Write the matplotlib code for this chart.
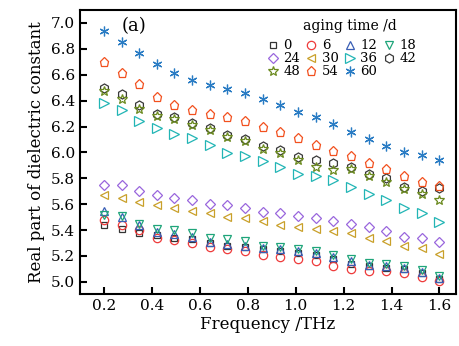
import numpy as np
import matplotlib
matplotlib.use("Agg")
import matplotlib.pyplot as plt

plt.rcParams['font.family'] = ['DejaVu Serif']
plt.rcParams['mathtext.fontset'] = 'dejavuserif'

# frequency points (THz)
freq = np.linspace(0.2, 1.6, 20)

# real part of dielectric constant for each aging time (days)
d0 = [5.44, 5.41, 5.38, 5.36, 5.34, 5.33, 5.30, 5.28, 5.27, 5.255,
      5.24, 5.225, 5.205, 5.175, 5.14, 5.12, 5.11, 5.10, 5.065, 5.025]
d6 = [5.48, 5.44, 5.40, 5.34, 5.32, 5.30, 5.27, 5.25, 5.24, 5.21,
      5.195, 5.18, 5.16, 5.125, 5.10, 5.085, 5.085, 5.07, 5.035, 5.01]
d12 = [5.55, 5.50, 5.44, 5.385, 5.37, 5.35, 5.31, 5.29, 5.28, 5.26,
       5.25, 5.235, 5.22, 5.19, 5.16, 5.13, 5.12, 5.105, 5.075, 5.03]
d18 = [5.52, 5.51, 5.45, 5.41, 5.40, 5.38, 5.34, 5.33, 5.315, 5.28,
       5.27, 5.25, 5.24, 5.205, 5.18, 5.145, 5.135, 5.12, 5.09, 5.045]
d24 = [5.75, 5.75, 5.70, 5.67, 5.65, 5.63, 5.60, 5.59, 5.57, 5.54,
       5.53, 5.51, 5.49, 5.47, 5.45, 5.42, 5.39, 5.35, 5.34, 5.31]
d30 = [5.67, 5.65, 5.62, 5.59, 5.57, 5.55, 5.53, 5.50, 5.49, 5.47,
       5.44, 5.42, 5.405, 5.39, 5.375, 5.335, 5.315, 5.28, 5.265, 5.215]
d36 = [6.385, 6.33, 6.245, 6.19, 6.14, 6.11, 6.055, 5.995, 5.97, 5.935,
       5.89, 5.835, 5.82, 5.79, 5.735, 5.68, 5.63, 5.57, 5.535, 5.465]
d42 = [6.50, 6.455, 6.37, 6.295, 6.27, 6.225, 6.19, 6.135, 6.10, 6.05,
       6.02, 5.965, 5.945, 5.92, 5.89, 5.835, 5.80, 5.735, 5.70, 5.725]
d48 = [6.475, 6.41, 6.335, 6.28, 6.255, 6.215, 6.175, 6.12, 6.085, 6.025,
       5.995, 5.945, 5.89, 5.865, 5.87, 5.82, 5.775, 5.72, 5.675, 5.635]
d54 = [6.70, 6.61, 6.53, 6.43, 6.37, 6.33, 6.30, 6.27, 6.24, 6.20,
       6.16, 6.11, 6.06, 6.01, 5.97, 5.92, 5.87, 5.82, 5.77, 5.74]
d60 = [6.94, 6.85, 6.77, 6.68, 6.61, 6.56, 6.52, 6.49, 6.46, 6.41,
       6.37, 6.31, 6.27, 6.22, 6.16, 6.10, 6.05, 6.00, 5.98, 5.94]

labels = ['0', '6', '12', '18', '24', '30', '36', '42', '48', '54', '60']
series = [d0, d6, d12, d18, d24, d30, d36, d42, d48, d54, d60]
markers = ['s', 'o', '^', 'v', 'D', '<', '>', 'h', '*', 'p', (6, 2, 0)]
colors = ['#333333', '#ee3b3b', '#3a5fb5', '#1fa57a', '#9966dd', '#c9a02a',
          '#22b5b5', '#3a3a3a', '#6b8a1f', '#f2501e', '#2a7cc4']
sizes = [5, 6, 6, 6, 5, 6, 7, 6.5, 7, 6.5, 7]

fig = plt.figure(figsize=(4.59, 3.46), dpi=100)
ax = fig.add_axes([0.174, 0.150, 0.820, 0.821])

handles = []
for y, lab, m, c, s in zip(series, labels, markers, colors, sizes):
    if m == (6, 2, 0):
        h, = ax.plot(freq, y, linestyle='none', marker=m, markersize=s,
                     color=c, markeredgewidth=0.9, label=lab)
    else:
        h, = ax.plot(freq, y, linestyle='none', marker=m, markersize=s,
                     markerfacecolor='none', markeredgecolor=c,
                     markeredgewidth=0.9, label=lab)
    handles.append(h)

ax.set_xlim(0.1, 1.67)
ax.set_ylim(4.905, 7.1)
ax.set_xticks(np.arange(0.2, 1.61, 0.2))
ax.set_yticks(np.arange(5.0, 7.01, 0.2))
ax.set_xticklabels(['%.1f' % v for v in np.arange(0.2, 1.61, 0.2)])
ax.set_yticklabels(['%.1f' % v for v in np.arange(5.0, 7.01, 0.2)])
ax.tick_params(direction='in', length=5, width=1.5, labelsize=11)
for sp in ax.spines.values():
    sp.set_linewidth(1.5)

ax.set_xlabel('Frequency /THz', fontsize=12, labelpad=2)
ax.set_ylabel('Real part of dielectric constant', fontsize=12, labelpad=4)
ax.text(0.112, 0.975, '(a)', transform=ax.transAxes, fontsize=13, va='top')
ax.text(0.718, 0.945, 'aging time /d', transform=ax.transAxes, fontsize=10,
        ha='center', va='center')

# row-wise ordering in a 4-column legend
order = [0, 4, 8, 1, 5, 9, 2, 6, 10, 3, 7]
leg = ax.legend([handles[i] for i in order], [labels[i] for i in order],
                ncol=4, frameon=False, fontsize=9.5,
                loc='upper left', bbox_to_anchor=(0.495, 0.897),
                handletextpad=0.3, columnspacing=0.35, labelspacing=0.0,
                handlelength=1.0, borderpad=0.0, borderaxespad=0.0)

fig.savefig('out.png', dpi=100)
